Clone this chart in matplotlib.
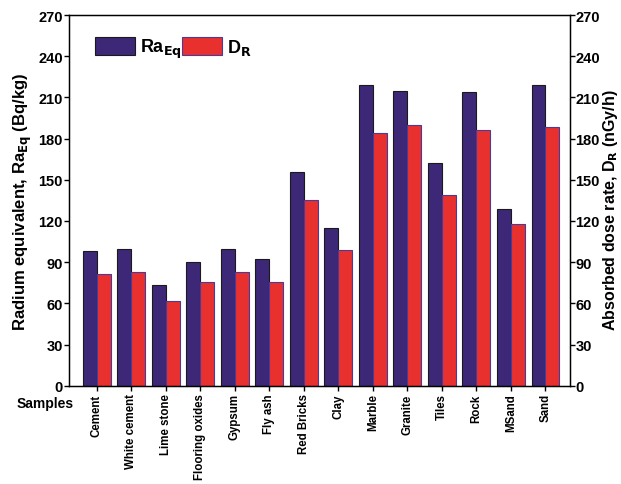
import numpy as np
import matplotlib
matplotlib.use("Agg")
import matplotlib.pyplot as plt

plt.rcParams['font.family'] = ['Liberation Sans', 'DejaVu Sans']
plt.rcParams['font.weight'] = 'bold'
plt.rcParams['mathtext.default'] = 'bf'

samples = ["Cement", "White cement", "Lime stone", "Flooring oxides", "Gypsum",
           "Fly ash", "Red Bricks", "Clay", "Marble", "Granite", "Tiles", "Rock",
           "MSand", "Sand"]
ra_eq = [97.9, 99.3, 73.3, 89.9, 99.3, 92.5, 155.6, 114.6, 218.8, 214.9, 162.0,
         214.1, 128.9, 219.0]
d_r = [81.6, 83.0, 61.9, 75.5, 82.6, 75.7, 135.2, 99.1, 183.8, 189.6, 139.1,
       186.5, 117.5, 188.2]
y_ticks = [0, 30, 60, 90, 120, 150, 180, 210, 240, 270]

navy = "#3d2877"
red = "#e8302e"

fig = plt.figure(figsize=(6.21, 4.85), dpi=100)
ax = fig.add_axes([69 / 621, 1 - 386.7 / 485, (570 - 69) / 621, (386.7 - 16) / 485])

x = np.arange(len(samples))
w = 0.405
ax.bar(x - w / 2, ra_eq, width=w, color=navy, edgecolor="#1a1a1a", linewidth=0.8,
       label=r"Ra$_{\mathbf{Eq}}$")
ax.bar(x + w / 2, d_r, width=w, color=red, edgecolor="#4a3a9a", linewidth=0.8,
       label=r"D$_{\mathbf{R}}$")

ax.set_xlim(-0.80, 13.71)
ax.set_ylim(0, 270)
ax.set_yticks(y_ticks)
ax.set_xticks(x)
ax.set_xticklabels(samples, rotation=90, fontsize=8.3, fontweight='bold')
ax.tick_params(axis='both', direction='out', length=3.5, width=1, labelsize=10.5)
ax.tick_params(axis='x', pad=2, labelsize=8.3)
ax.tick_params(axis='y', pad=1)
for lab in ax.get_yticklabels():
    lab.set_fontweight('bold')
for s in ax.spines.values():
    s.set_linewidth(1.0)

ax.set_ylabel(r"Radium equivalent, Ra$_{\mathbf{Eq}}$ (Bq/kg)", fontsize=12,
              fontweight='bold', labelpad=3)

ax2 = ax.twinx()
ax2.set_ylim(0, 270)
ax2.set_yticks(y_ticks)
ax2.tick_params(axis='y', direction='out', length=3.5, width=1, labelsize=10.5, pad=0.5)
for lab in ax2.get_yticklabels():
    lab.set_fontweight('bold')

fig.text(601 / 621, 1 - 210 / 485, r"Absorbed dose rate, D$_{\mathbf{R}}$ (nGy/h)",
         rotation=90, ha='left', va='center', fontsize=11.5, fontweight='bold')

fig.text(45 / 621, 1 - 404 / 485, "Samples", ha='center', va='center',
         fontsize=10, fontweight='bold')

leg = ax.legend(loc='upper left', ncol=2, frameon=False, fontsize=13,
                handlelength=2.2, handleheight=1.2, handletextpad=0.3,
                columnspacing=0.0, bbox_to_anchor=(0.02, 0.985))

fig.savefig("out.png", dpi=100)
